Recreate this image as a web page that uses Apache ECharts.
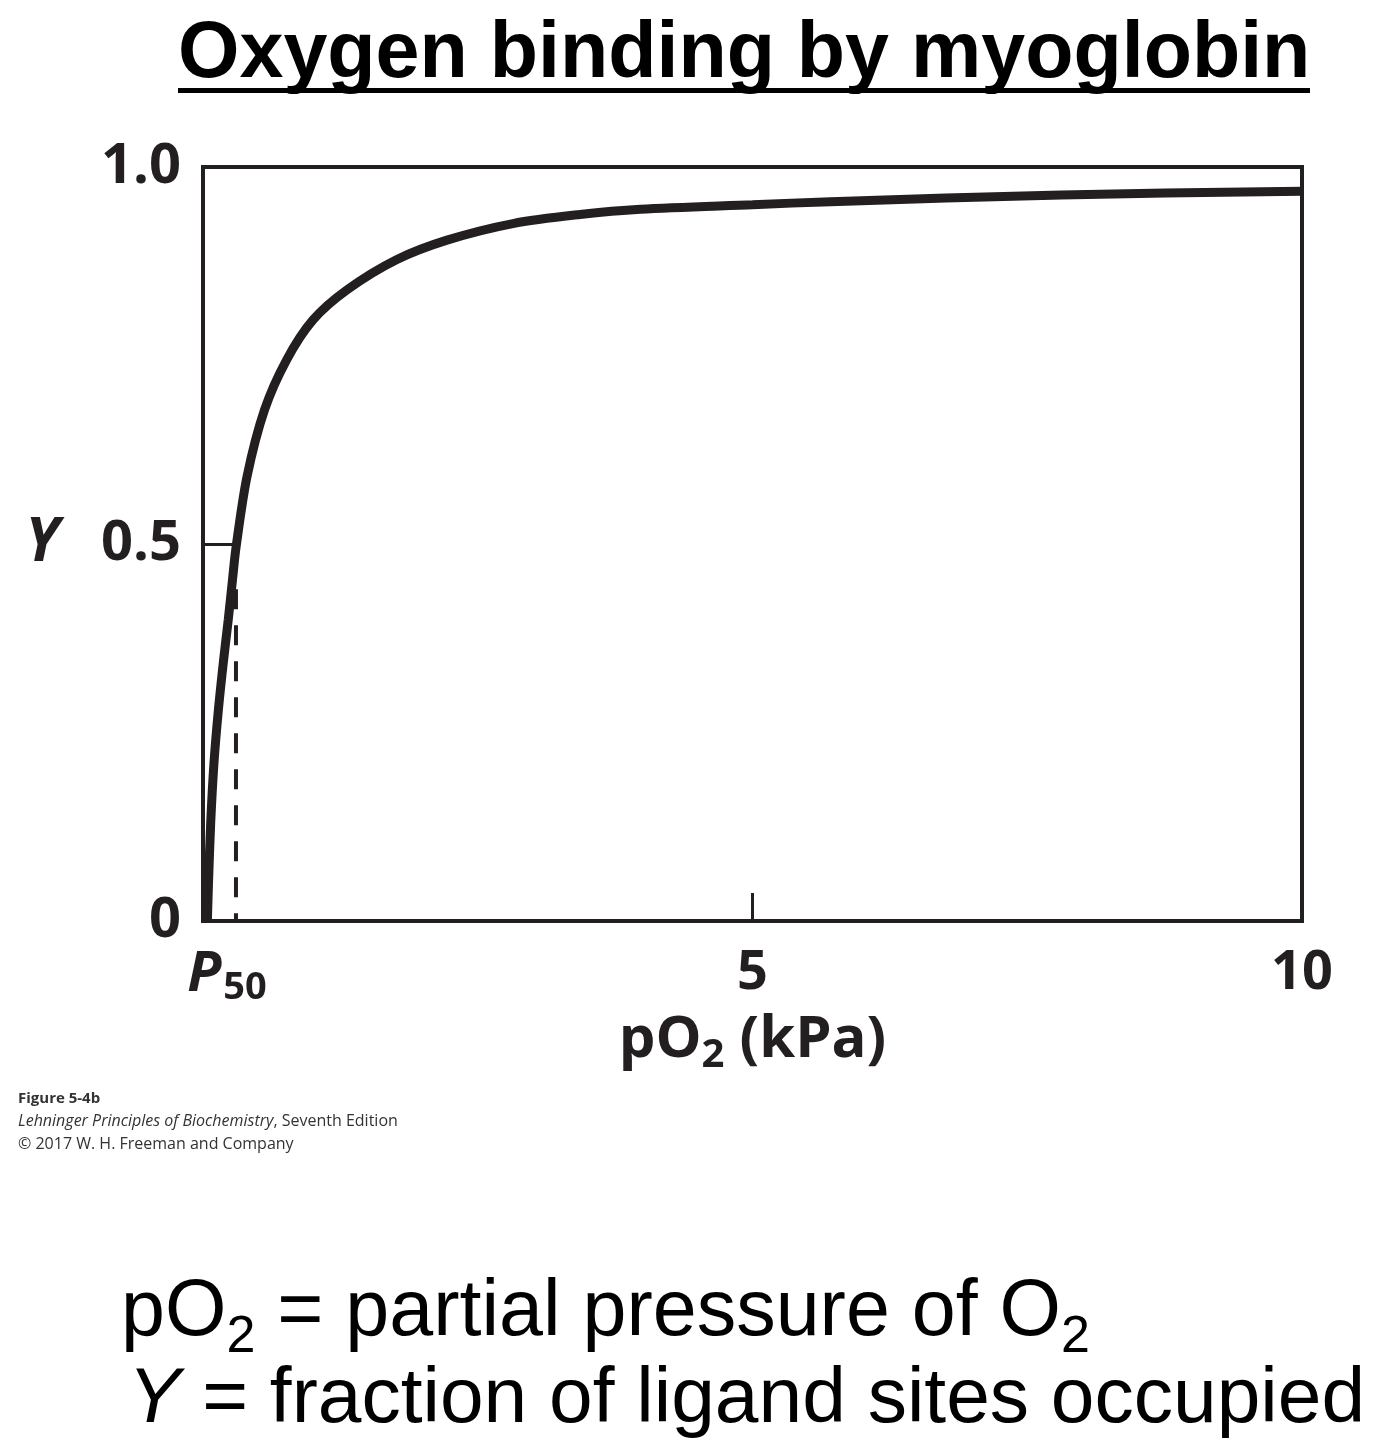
<!DOCTYPE html>
<html>
<head>
<meta charset="utf-8">
<script src="https://cdn.jsdelivr.net/npm/echarts@6/dist/echarts.min.js"></script>
<style>
  html, body { margin: 0; padding: 0; background: #fff; }
  #main { width: 1379px; height: 1444px; }
</style>
</head>
<body>
<div id="main"></div>
<script>
// myoglobin saturation curve
var po2 = [0.04, 0.05, 0.07, 0.10, 0.14, 0.185, 0.23, 0.27, 0.30, 0.40, 0.56, 0.76, 1.00, 1.31, 1.76, 2.22, 2.82, 3.43, 3.98, 5.00, 5.71, 7.81, 10.0];
var occupied = [0.00, 0.05, 0.13, 0.21, 0.28, 0.343, 0.40, 0.455, 0.495, 0.589, 0.678, 0.744, 0.797, 0.837, 0.877, 0.903, 0.925, 0.937, 0.944, 0.950, 0.954, 0.963, 0.968];
var p50 = 0.30;
var p50DashTop = 0.44;
var xLabelValues = [p50, 5, 10];
var yLabelValues = [0, 0.5, 1];

var ink = '#231f20';
var labelFont = '"Open Sans", "Noto Sans", sans-serif';
var textFont = '"Liberation Sans", Arial, sans-serif';

var curve = [];
for (var i = 0; i < po2.length; i++) {
    curve.push([po2[i], occupied[i]]);
}

var chart = echarts.init(document.getElementById('main'));
var option = {
    backgroundColor: '#fff',
    animation: false,
    grid: {
        left: 203, right: 77, top: 167, bottom: 523,
        show: true, borderColor: ink, borderWidth: 4
    },
    xAxis: {
        type: 'value', min: 0, max: 10, interval: 5,
        splitLine: { show: false },
        axisLine: { show: false },
        axisTick: { show: true, customValues: [5], inside: true, length: 28, lineStyle: { color: ink, width: 3 } },
        axisLabel: {
            customValues: xLabelValues,
            margin: 26,
            color: ink,
            fontFamily: labelFont,
            fontWeight: 'bold',
            fontSize: 54,
            formatter: function (v) {
                if (v === p50) return '{p|P}{s|50}';
                return String(v);
            },
            rich: {
                p: { fontFamily: labelFont, fontWeight: 'bold', fontStyle: 'italic', fontSize: 56, color: ink, lineHeight: 60, verticalAlign: 'top' },
                s: { fontFamily: labelFont, fontWeight: 'bold', fontSize: 38, color: ink, lineHeight: 60, verticalAlign: 'top', padding: [22, 18, 0, 2] }
            }
        },
        name: '{a|pO}{s|2}{a| (kPa)}',
        nameLocation: 'middle',
        nameGap: 88,
        nameTextStyle: {
            rich: {
                a: { fontFamily: labelFont, fontWeight: 'bold', fontSize: 58, color: ink, lineHeight: 66, verticalAlign: 'top' },
                s: { fontFamily: labelFont, fontWeight: 'bold', fontSize: 40, color: ink, lineHeight: 66, verticalAlign: 'top', padding: [24, 0, 0, 0] }
            }
        }
    },
    yAxis: {
        type: 'value', min: 0, max: 1, interval: 0.5,
        splitLine: { show: false },
        axisLine: { show: false },
        axisTick: { show: true, customValues: [0.5], inside: true, length: 30, lineStyle: { color: ink, width: 3 } },
        axisLabel: {
            customValues: yLabelValues,
            margin: 22,
            color: ink,
            fontFamily: labelFont,
            fontWeight: 'bold',
            fontSize: 56,
            formatter: function (v) {
                if (v === 1) return '{n|1.0}';
                if (v === 0.5) return '{it|Y}{n|0.5}';
                return '{n|0}';
            },
            rich: {
                n: { fontFamily: labelFont, fontWeight: 'bold', fontSize: 56, color: ink },
                it: { fontFamily: labelFont, fontWeight: 'bold', fontStyle: 'italic', fontSize: 60, color: ink, padding: [0, 42, 0, 0] }
            }
        }
    },
    series: [
        {
            type: 'line',
            data: [[p50, p50DashTop], [p50, 0]],
            symbol: 'none',
            lineStyle: { color: ink, width: 4, type: [20, 16] },
            z: 2
        },
        {
            type: 'line',
            data: curve,
            smooth: 0.3,
            symbol: 'none',
            lineStyle: { color: ink, width: 9 },
            z: 3
        }
    ],
    graphic: [
        {
            type: 'text', left: 178, top: 16,
            style: {
                text: 'Oxygen binding by myoglobin',
                fontFamily: textFont,
                fontWeight: 'bold', fontSize: 79, fill: '#000'
            }
        },
        {
            type: 'rect',
            shape: { x: 178, y: 88, width: 1132, height: 5 },
            style: { fill: '#000' }
        },
        {
            type: 'text', left: 18, top: 1091,
            style: {
                text: '{b|Figure 5-4b}\n{i|Lehninger Principles of Biochemistry}{r|, Seventh Edition}\n{r|\u00a9 2017 W. H. Freeman and Company}',
                rich: {
                    b: { fontFamily: labelFont, fontWeight: 'bold', fontSize: 15, fill: '#333', lineHeight: 23 },
                    i: { fontFamily: labelFont, fontStyle: 'italic', fontSize: 16, fill: '#333', lineHeight: 23 },
                    r: { fontFamily: labelFont, fontSize: 16, fill: '#333', lineHeight: 23 }
                }
            }
        },
        {
            type: 'text', left: 121, top: 1274,
            style: {
                text: '{a|pO}{s|2}{a| = partial pressure of O}{s|2}',
                rich: {
                    a: { fontFamily: textFont, fontSize: 79, fill: '#000', lineHeight: 90, verticalAlign: 'top' },
                    s: { fontFamily: textFont, fontSize: 52, fill: '#000', lineHeight: 90, verticalAlign: 'top', padding: [38, 0, 0, 0] }
                }
            }
        },
        {
            type: 'text', left: 128, top: 1361,
            style: {
                text: '{y|Y}{a| = fraction of ligand sites occupied}',
                rich: {
                    y: { fontFamily: textFont, fontStyle: 'italic', fontSize: 78.5, fill: '#000', lineHeight: 90 },
                    a: { fontFamily: textFont, fontSize: 78.5, fill: '#000', lineHeight: 90 }
                }
            }
        }
    ]
};
chart.setOption(option);
window.addEventListener('resize', function () {
    chart.resize();
});
</script>
</body>
</html>
